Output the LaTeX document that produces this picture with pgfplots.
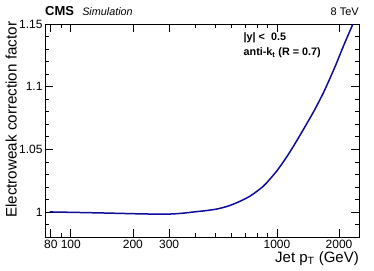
\documentclass[border=0pt]{standalone}
\usepackage{fontspec}
\setmainfont{Liberation Sans}
\usepackage{pgfplots}
\pgfplotsset{compat=1.18}
\definecolor{rootblue}{rgb}{0.05,0.05,0.6}
\begin{document}
\begin{tikzpicture}
\begin{axis}[
  scale only axis, width=314pt, height=213pt,
  at={(0,0)}, anchor=south west,
  xmode=log, xmin=75, xmax=2500,
  ymin=0.98, ymax=1.15,
  /pgf/number format/assume math mode=true,
  ticklabel style={font=\fontsize{12}{12}\selectfont},
  xtick={80,100,200,300,1000,2000},
  xticklabels={80,100,200,300,1000,2000},
  minor xtick={90,400,500,600,700,800,900,3000},
  ytick={1,1.05,1.1,1.15},
  yticklabels={1,1.05,1.1,1.15},
  minor ytick={0.98,0.99,1.01,1.02,1.03,1.04,1.06,1.07,1.08,1.09,1.11,1.12,1.13,1.14},
  tick align=inside, ticks=both,
  major tick length=8pt, minor tick length=4.5pt,
  xtick pos=both, ytick pos=both,
  xticklabel pos=lower, yticklabel pos=left,
  every tick/.style={black, line width=0.6pt},
  axis line style={line width=0.8pt},
  yticklabel style={xshift=1pt},
  clip=false,
]
\addplot[rootblue, line width=1.5pt, smooth] coordinates {
(79,1.0000) (100,0.9997) (150,0.9991) (200,0.9986) (250,0.9983) (300,0.9983)
(350,0.9990) (400,1.0001) (450,1.0010) (510,1.0023) (570,1.0043) (637,1.0073)
(740,1.0126) (857,1.0204) (925,1.0263) (997,1.0326) (1094,1.0419) (1200,1.0522)
(1343,1.0658) (1500,1.0795) (1618,1.0898) (1710,1.0978) (1914,1.1160)
(2100,1.1323) (2330,1.1496)
};
\node[anchor=base west, font=\fontsize{13}{13}\selectfont\bfseries, inner sep=0pt] at (rel axis cs:0,1) [yshift=8pt] {CMS};
\node[anchor=base west, font=\fontsize{10.8}{10.8}\selectfont\itshape, inner sep=0pt] at (rel axis cs:0.118,1) [yshift=8pt] {Simulation};
\node[anchor=base east, font=\fontsize{11}{11}\selectfont, inner sep=0pt] at (rel axis cs:1,1) [yshift=8pt] {8 TeV};
\node[anchor=west, font=\fontsize{10.8}{10.8}\selectfont\bfseries, inner sep=0pt] at (rel axis cs:0.632,0.935) {|y| <\ \ 0.5};
\node[anchor=west, font=\fontsize{10.8}{10.8}\selectfont\bfseries, inner sep=0pt] at (rel axis cs:0.632,0.865) {anti-k\textsubscript{t} (R = 0.7)};
\node[anchor=base east, font=\fontsize{15}{15}\selectfont, inner sep=0pt] at ([yshift=-25pt]rel axis cs:1,0) {Jet p\textsubscript{T} (GeV)};
\node[anchor=south east, rotate=90, font=\fontsize{15.2}{15.2}\selectfont, inner sep=0pt] at ([xshift=-28pt, yshift=2.3pt]rel axis cs:0,1) {Electroweak correction factor};
\end{axis}
\pgfresetboundingbox
\path (-45pt,-33pt) rectangle (329pt,237pt);
\end{tikzpicture}
\end{document}
